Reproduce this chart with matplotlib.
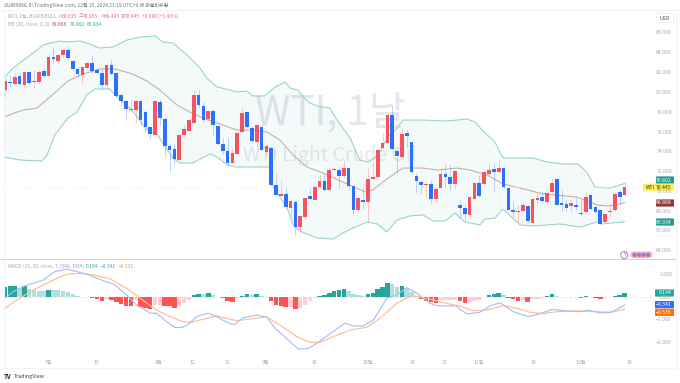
import numpy as np
import matplotlib
matplotlib.use("Agg")
import matplotlib.pyplot as plt
from matplotlib.patches import Rectangle, FancyBboxPatch, Circle

FONT = ['Noto Sans CJK KR', 'DejaVu Sans']
plt.rcParams['font.family'] = FONT

open_ = [80.24,81.05,80.85,81.65,80.78,82.09,81.01,81.05,82.13,81.69,83.61,83.13,83.74,84.28,83.20,82.33,81.72,82.43,82.93,82.26,
81.92,80.78,82.73,81.92,79.70,79.13,78.22,78.22,79.09,78.02,76.47,75.73,79.06,77.34,74.58,74.28,73.17,75.66,76.13,76.94,
79.70,78.66,77.31,78.12,76.58,74.76,74.08,72.84,73.81,76.04,77.99,76.44,75.03,76.54,74.02,74.42,70.65,69.57,69.71,68.36,
68.97,66.44,67.42,69.50,69.17,70.41,71.02,70.14,72.13,72.16,71.56,72.33,70.51,68.12,69.10,68.90,71.22,71.42,74.35,74.86,
77.72,74.08,73.51,75.87,74.96,71.59,70.92,70.65,70.72,69.27,70.38,71.76,71.42,70.72,68.63,68.29,67.62,69.27,70.82,70.75,
71.76,72.23,71.93,72.33,70.31,68.16,67.96,68.06,68.56,66.78,69.10,69.40,68.90,69.97,71.26,68.86,68.73,68.53,68.66,67.82,
67.92,69.64,68.39,68.12,66.91,67.89,68.09,69.91,69.64]
close = [81.18,80.91,81.59,80.85,82.06,80.98,81.15,82.06,81.69,83.61,83.34,83.81,84.28,83.47,82.33,81.86,82.53,83.00,82.19,81.99,
80.78,82.73,81.86,79.63,79.16,78.32,78.29,79.13,77.21,76.47,75.76,79.16,77.38,74.58,74.21,73.24,75.69,76.33,77.21,79.73,
78.69,77.18,78.12,76.67,74.79,74.08,72.84,73.91,75.87,77.92,76.51,75.09,76.71,74.22,74.55,70.65,69.64,69.74,68.46,69.03,
66.44,67.52,69.30,69.27,70.48,71.02,70.14,72.13,72.26,71.52,72.37,70.58,68.12,69.30,68.90,71.29,71.49,74.18,74.93,77.72,
74.25,73.58,75.77,75.63,71.93,71.02,70.65,70.75,69.27,70.21,71.73,71.42,70.72,72.06,68.29,67.75,69.40,70.82,69.57,71.93,
72.16,71.99,72.33,70.48,68.12,67.92,68.02,68.63,66.98,69.23,69.37,69.07,69.81,70.82,68.66,68.60,68.36,68.80,68.39,67.75,
69.47,68.23,67.89,66.71,67.69,67.96,69.71,69.40,70.445]
high = [81.42,81.75,81.92,81.92,82.19,82.19,82.26,82.26,82.43,83.88,84.62,83.94,84.35,84.68,83.27,82.46,82.60,83.20,83.81,82.43,
82.43,82.80,83.34,81.99,79.84,79.23,79.23,79.23,79.23,78.22,76.60,79.23,79.30,77.48,74.85,74.85,75.76,76.70,77.28,80.24,
80.24,79.06,78.22,78.29,76.64,75.36,75.36,74.42,75.97,78.39,78.06,76.64,76.78,76.71,74.69,74.52,71.83,71.15,70.31,69.13,
69.13,67.62,69.37,70.38,70.65,71.66,71.83,72.50,72.50,72.60,73.17,72.40,70.58,69.37,70.31,72.33,73.01,74.29,75.87,77.79,
78.73,74.25,76.37,76.24,75.03,71.83,71.15,70.99,71.15,70.31,72.50,72.74,72.74,72.16,69.13,68.70,69.47,70.89,71.66,71.99,
72.84,72.84,73.07,72.40,70.38,69.13,68.63,68.90,68.63,69.30,69.81,70.04,69.97,71.32,71.32,70.14,69.13,69.13,69.47,69.13,
69.97,69.74,68.56,68.19,67.75,68.70,69.97,70.14,70.955]
low = [79.57,80.58,80.74,80.74,80.58,80.85,80.47,80.91,81.42,81.65,82.93,82.93,83.61,83.34,82.19,81.59,80.91,82.26,81.92,81.92,
80.24,80.37,81.79,79.57,78.62,77.21,78.15,76.87,76.70,76.03,75.26,75.66,76.70,73.44,71.99,72.66,73.10,75.53,76.06,76.87,
78.56,77.04,77.21,75.69,74.69,73.75,72.67,72.74,73.75,75.97,76.37,74.96,74.52,74.15,73.68,70.58,69.57,69.47,68.29,67.45,
65.50,65.94,67.35,69.13,69.10,70.31,70.04,70.04,72.06,70.38,71.46,70.14,67.62,67.95,68.22,66.95,71.15,71.32,74.29,74.76,
74.18,71.83,73.44,74.52,71.86,69.81,69.71,69.47,68.70,68.90,70.31,70.48,70.14,70.31,67.28,67.11,67.55,69.23,69.47,70.72,
71.66,69.91,71.86,70.38,68.02,67.45,66.95,67.89,66.88,66.68,68.63,68.80,68.80,69.81,68.63,67.89,68.02,68.02,68.02,67.55,
67.85,68.16,67.79,66.68,66.84,67.45,68.02,68.70,69.495]

upper_x = [-0.3,1.7,4.1,6.6,7.9,9.3,11.4,12.8,15.5,16.9,19.6,22.3,25.2,27.9,31.0,32.6,34.7,37.6,40.3,41.7,43.8,46.5,47.9,50.0,51.2,53.7,55.8,57.9,58.9,60.5,62.6,64.5,67.1,68.6,71.3,73.3,75.0,76.4,77.9,78.9,81.0,82.2,86.4,91.3,95.5,97.1,98.6,101.2,102.9,105.8,109.1,112.0,115.3,118.4,120.2,121.9,125.0,128.0]
upper_v = [81.45,82.46,83.37,84.28,84.79,84.99,85.19,85.09,85.19,84.99,84.48,84.59,85.29,85.60,85.70,85.09,84.99,83.78,82.46,81.45,80.55,80.24,80.04,80.14,79.64,79.64,80.55,81.05,80.44,80.24,79.03,78.63,78.42,77.21,75.39,73.17,72.97,73.37,74.38,75.39,76.40,77.21,77.21,77.11,77.31,77.01,76.20,74.99,73.37,73.37,73.37,72.97,72.77,72.77,71.96,70.44,70.34,70.80]
lower_x = [-0.3,3.1,7.6,8.7,10.3,13.0,14.9,16.9,18.6,21.7,22.7,26.4,29.3,31.4,32.6,34.7,36.2,38.8,42.4,43.8,45.9,47.9,53.7,54.8,55.4,56.8,58.3,59.5,61.4,64.5,67.8,69.8,71.9,74.8,76.9,78.9,81.0,83.7,86.4,88.4,90.9,93.0,95.0,98.1,99.2,101.2,102.9,106.4,109.5,114.7,118.8,122.3,123.3,128.0]
lower_v = [73.47,73.17,73.07,73.68,75.70,77.41,78.02,79.74,80.34,80.34,79.74,78.12,76.20,75.80,74.89,73.37,72.87,72.87,73.78,73.47,72.67,72.46,72.46,72.46,70.44,69.43,68.32,66.61,65.90,65.29,65.19,65.80,66.30,66.91,66.71,65.90,67.11,67.52,67.62,67.01,67.01,67.82,66.91,66.61,67.21,67.31,68.22,66.61,66.51,66.71,66.40,66.91,66.71,66.93]
basis_x = [-0.3,3.7,6.6,9.3,13.0,16.1,19.6,22.7,26.4,29.3,32.0,35.5,38.2,40.9,45.0,47.9,51.2,54.1,56.8,59.5,62.4,65.7,69.8,74.4,76.0,78.9,82.2,86.4,89.3,93.4,96.1,99.6,102.9,106.4,111.2,118.2,122.3,124.4,126.4,128.0]
basis_v = [77.52,78.22,78.42,79.54,81.15,81.86,82.36,82.36,81.86,81.15,80.24,78.73,78.02,77.41,76.71,76.20,76.20,76.00,75.19,73.68,72.46,71.86,70.95,69.94,70.14,71.25,72.36,72.36,72.16,72.36,72.16,71.66,70.75,70.34,69.74,69.43,68.63,68.53,68.63,68.87]

hist = [.45,.49,.51,.42,.51,.39,.33,.30,.28,.33,.31,.31,.30,.25,.15,.07,.03,.01,-.03,-.07,-.16,-.06,-.13,-.22,-.30,-.39,-.40,-.13,-.45,-.46,-.51,-.36,-.33,-.39,-.40,-.48,-.37,-.25,-.12,.09,.16,.13,.18,.09,.01,-.04,-.16,
-.19,-.04,.07,.13,.09,.13,.04,.01,-.18,-.34,-.40,-.45,-.43,-.51,-.46,-.33,-.18,-.04,.04,.10,.21,.30,.33,.39,.28,.13,.10,.06,.13,.21,.37,.48,.66,.58,.48,.51,.43,.25,.04,-.07,-.15,-.21,-.24,-.12,-.12,-.11,-.10,-.18,
-.27,-.21,-.15,-.10,.01,.09,.15,.19,.12,-.01,-.09,-.15,-.12,-.22,-.07,-.06,-.01,.06,.13,.06,.03,.01,.03,.01,-.03,.04,.01,-.01,-.06,-.04,0.0,.07,.12,.194]
macd_x = [-0.3,1.7,4.1,7.9,10.3,12.7,14.8,16.9,20.3,22.4,25.1,27.2,30.0,31.3,33.4,35.1,36.5,37.9,39.6,42.0,43.7,46.5,47.5,49.2,50.6,52.0,54.1,55.8,58.5,60.6,62.7,64.4,67.1,70.2,72.0,74.0,76.1,78.9,80.9,83.0,85.1,87.8,89.2,92.0,93.3,94.0,95.4,98.1,100.2,102.3,105.0,108.1,110.2,113.0,116.0,119.1,120.5,122.9,125.3,128.0]
macd_v = [-.09,.25,.51,.77,1.15,1.25,1.15,1.03,.74,.60,.10,-.34,-.71,-.71,-1.09,-1.35,-1.35,-1.21,-.86,-.71,-.86,-1.19,-1.21,-.91,-.86,-.79,-.89,-1.38,-1.90,-2.31,-2.28,-2.05,-1.64,-1.16,-1.28,-1.28,-1.01,-.04,.10,.43,.18,-.27,-.37,-.39,-.37,-.54,-.74,-.67,-.39,-.24,-.64,-.86,-.76,-.54,-.61,-.64,-.57,-.70,-.67,-.341]
signal_x = [-0.3,2.4,5.9,9.3,12.7,15.5,18.3,21.7,25.1,27.9,31.3,34.1,36.8,38.2,41.0,43.7,46.5,47.9,50.6,54.1,56.8,60.3,63.0,65.1,67.8,71.3,74.7,77.5,80.9,84.0,87.1,90.6,94.0,96.8,99.5,103.0,105.7,108.5,111.2,114.0,118.1,122.2,125.0,128.0]
signal_v = [-.54,-.12,.33,.70,1.03,1.07,1.00,.82,.40,-.04,-.57,-.86,-1.09,-1.13,-.98,-.83,-.98,-1.04,-.97,-.88,-1.24,-1.76,-2.01,-2.01,-1.76,-1.46,-1.34,-.94,-.27,.07,-.04,-.24,-.40,-.60,-.57,-.37,-.49,-.67,-.73,-.64,-.61,-.64,-.67,-.535]

price_ticks = [86,84,82,80,78,76,74,72,70,68,66,64]
macd_ticks = [1,0,-1,-2]
time_labels = ['7월','15','8월','12','21','9월','16','10월','14','23','11월','18','12월','16']
time_pos = [8.9,18.8,31.8,38.8,45.9,53.9,64.0,75.0,84.1,90.9,97.9,109.1,119.0,129.1]

UP, DOWN = '#f7525f', '#2e6fff'
W, H = 680, 383
fig = plt.figure(figsize=(W/100, H/100), dpi=100, facecolor='white')

def pane(x0, y0, x1, y1):
    return fig.add_axes([x0/W, 1-y1/H, (x1-x0)/W, (y1-y0)/H])

XL = ((4-5)/4.84, (652-5)/4.84)
ax = pane(4, 10, 652, 259)
ax.set_xlim(*XL)
ax.set_ylim(86-(259-33)/9.9, 86-(10-33)/9.9)
ax.axis('off')
n = len(close)
xs = np.arange(n)
o, c, h, l = map(np.array, (open_, close, high, low))
cols = np.where(c >= o, UP, DOWN)

ax.text(0.503, 0.585, 'WTI, 1날', transform=ax.transAxes, ha='center', va='center',
        fontsize=29, color='#e4e6ea', zorder=1)
ax.text(0.503, 0.415, 'WTI Light Crude Oil', transform=ax.transAxes, ha='center', va='center',
        fontsize=14, color='#e6e8eb', zorder=1)

ax.fill(np.r_[upper_x, lower_x[::-1]], np.r_[upper_v, lower_v[::-1]], color='#26a69a', alpha=0.05, lw=0, zorder=2)
ax.plot(upper_x, upper_v, color='#93d2ca', lw=0.75, zorder=3)
ax.plot(lower_x, lower_v, color='#93d2ca', lw=0.75, zorder=3)
ax.plot(basis_x, basis_v, color='#cda8a3', lw=0.75, zorder=3)
ax.axhline(70.445, color='#fff3a6', lw=0.7, ls=(0, (1, 1.5)), zorder=3)
ax.vlines(xs, l, h, colors=cols, lw=0.7, alpha=0.3, zorder=4)
ax.bar(xs, np.maximum(np.abs(c-o), 0.08), bottom=np.minimum(o, c), width=0.76, color=cols, lw=0, zorder=5)

m = pane(4, 261, 652, 367.5)
m.set_xlim(*XL)
m.set_ylim((297.3-367.5)/22.4, (297.3-261)/22.4)
m.axis('off')
hv = np.array(hist)
prev = np.r_[hv[0]-1, hv[:-1]]
hc = [('#26a69a' if v > p else '#b2dfdb') if v >= 0 else ('#ff5252' if v < p else '#ffcdd2') for v, p in zip(hv, prev)]
m.axhline(0, color='#f3d9dc', lw=0.6, ls=(0, (3, 3)), zorder=1)
m.bar(np.arange(len(hv)), hv, width=0.92, color=hc, lw=0, zorder=2)
m.plot(signal_x, signal_v, color='#ffbd8f', lw=0.85, zorder=3)
m.plot(macd_x, macd_v, color='#a6bffb', lw=0.85, zorder=4)

ov = fig.add_axes([0, 0, 1, 1], facecolor='none', zorder=10)
ov.set_xlim(0, W); ov.set_ylim(H, 0); ov.axis('off')
ov.plot([0, W], [10.3, 10.3], color='#f0f3fa', lw=0.8)
ov.plot([4, 4], [10, 368], color='#f0f3fa', lw=0.8)
ov.plot([4, 676], [367.8, 367.8], color='#f0f3fa', lw=0.8)
ov.plot([676, 676], [10, 368], color='#f0f3fa', lw=0.8)
ov.add_patch(Rectangle((0, 258.8), 677, 1.6, color='#d1d4dc', lw=0))

S = 3.55
def t(x, y, s, color='#8a8e99', size=S, ha='left', **kw):
    ov.text(x, y, s, color=color, fontsize=size, ha=ha, va='center', **kw)

t(4, 5.7, 'SURIRING 이 TradingView.com, 12월 15, 2024 21:19 UTC+9 에 퍼블리쉬함', color='#6f7380', size=3.65)
t(7.5, 16, 'WTI, 1날, BLACKBULL', color='#a3a6af')
for x, lab, val in [(57.5, '시', '69.635'), (79, '고', '70.955'), (100.5, '저', '69.495'), (121, '종', '70.445')]:
    t(x, 16, lab, color='#a3a6af')
    t(x+4.2, 16, val, color='#f2606c')
t(141.5, 16, '+0.990 (+1.43%)', color='#f2606c')
t(7.5, 24, 'BB (20, close, 2, 0)', color='#a3a6af')
t(52, 24, '68.868', color='#a65a58')
t(70, 24, '70.802', color='#26a69a')
t(87, 24, '66.934', color='#26a69a')
t(7.5, 266, 'MACD (15, 30, close, 7, EMA, EMA)', color='#a3a6af')
t(86, 266, '0.194', color='#26a69a')
t(101, 266, '−0.341', color='#5b86f5')
t(119, 266, '−0.535', color='#ff8f3f')

for v in price_ticks:
    t(672, 33+(86-v)*9.9, f'{v:.3f}', color='#a9acb5', size=3.7, ha='right')
for v in macd_ticks:
    t(672, 297.3-v*22.4, f'{v:.3f}'.replace('-', '−'), color='#a9acb5', size=3.7, ha='right')
for lab, i in zip(time_labels, time_pos):
    t(5+4.84*i, 362, lab, color='#a9acb5', size=3.7, ha='center')

ov.add_patch(FancyBboxPatch((656.5, 13.5), 17, 9, boxstyle='round,pad=0,rounding_size=1.5', fc='white', ec='#eceef2', lw=0.6))
t(665, 18, 'USD', color='#555963', size=3.8, ha='center')

def badge(x0, x1, y, fc, s, color='white'):
    ov.add_patch(FancyBboxPatch((x0, y-3.6), x1-x0, 7.2, boxstyle='round,pad=0,rounding_size=0.8', fc=fc, ec='none'))
    t(x1-2.2, y, s, color=color, size=3.7, ha='right')

badge(656, 674, 180, '#1f9d8f', '70.802')
badge(643, 674, 187.3, '#ffee58', '70.445', '#333333')
t(645.5, 187.3, 'WTI', color='#333333', size=3.7)
badge(656, 674, 203, '#8c3a38', '68.868')
badge(656, 674, 222, '#1f9d8f', '66.934')
badge(655, 674, 293, '#26a69a', '0.194')
badge(655, 674, 304.6, '#2e6fff', '−0.341')
badge(655, 674, 312.3, '#ff6d00', '−0.535')

ov.add_patch(Circle((624.3, 255), 3.6, fc='white', ec='#c56fd6', lw=0.7))
t(624.3, 255, 'ϟ', color='#b04fc8', size=4.5, ha='center', family='DejaVu Sans')
ov.add_patch(FancyBboxPatch((630.5, 251.5), 22, 6.5, boxstyle='round,pad=0,rounding_size=3', fc='#ffb3ba', ec='none'))
for x in (634.5, 639, 643.5, 648):
    ov.add_patch(Circle((x, 254.8), 1.9, fc='#6d8fe0', ec='#f2606c', lw=0.4))

t(4, 376.3, 'TV', color='#1e222d', size=4.4, fontweight='bold')
t(13.5, 376.3, 'TradingView', color='#3a3e49', size=3.8)

fig.savefig('out.png', dpi=100)
